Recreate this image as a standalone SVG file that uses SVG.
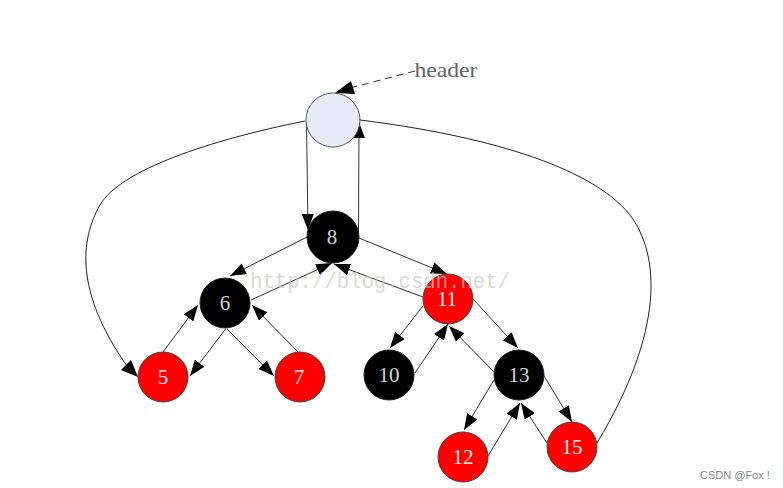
<svg xmlns="http://www.w3.org/2000/svg" width="783" height="488" viewBox="0 0 783 488">
<defs>
<style>
.e{fill:none;stroke:#333;stroke-width:1;marker-end:url(#ah)}
.c{fill:none;stroke:#222;stroke-width:1}
.red{fill:#ff0000;stroke:#444;stroke-width:1}
.blk{fill:#000;stroke:#222;stroke-width:1}
.lbl{font-family:"Liberation Serif","Times New Roman",serif;font-size:21px;text-anchor:middle}
.lb{fill:#d4d4d4}
.lr{fill:#ffe8e8}
</style>
<marker id="ah" viewBox="0 0 16 12" refX="16" refY="6" markerWidth="16" markerHeight="12" markerUnits="userSpaceOnUse" orient="auto">
<path d="M0,0 L16,6 L0,12 z" fill="#000"/>
</marker>
</defs>
<rect width="783" height="488" fill="#fff"/>
<g id="connectors">
<path class="c" d="M305,121 C210,140 120,170 100,205 S75,292 127,366"/>
<path d="M138,377 L121,370 L131,360 z" fill="#000"/>
<path class="c" d="M360,120 C480,135 590,165 630,215 C660,255 665,330 597,443"/>
<path d="M415,71 L350,88" fill="none" stroke="#333" stroke-dasharray="7,5"/>
<path d="M335,93 L351,81 L355,94 z" fill="#000"/>
<path class="e" d="M306.5,121 L308,230"/>
<path class="e" d="M358.5,234 L359,122"/>
<path class="e" d="M307,237 L230,276"/>
<path class="e" d="M251,300 L332,263"/>
<path class="e" d="M359,238 L447,274"/>
<path class="e" d="M423,297 L334,264"/>
<path class="e" d="M225.5,329 L190,376"/>
<path class="e" d="M163,352 L198,305"/>
<path class="e" d="M227,329 L274,376"/>
<path class="e" d="M298,352 L252,305"/>
<path class="e" d="M423,306 L390,348"/>
<path class="e" d="M415,373 L448,324"/>
<path class="e" d="M473,299 L518,348"/>
<path class="e" d="M494,372 L449,326"/>
<path class="e" d="M494,380 L464,430"/>
<path class="e" d="M488,456 L520,403"/>
<path class="e" d="M544,376 L572,422"/>
<path class="e" d="M547,443 L521,403"/>
</g>
<g id="header">
<circle cx="333" cy="120" r="27" fill="#e5ecf7" stroke="#555" stroke-width="1"/>
<text x="446" y="77" font-family="'Liberation Serif','Times New Roman',serif" font-size="21" fill="#666" text-anchor="middle" textLength="63" lengthAdjust="spacingAndGlyphs">header</text>
</g>
<g id="n8"><circle class="blk" cx="333" cy="237" r="26"/><text class="lbl lb" x="332" y="244">8</text></g>
<g id="n6"><circle class="blk" cx="225" cy="303" r="25"/><text class="lbl lb" x="225" y="310">6</text></g>
<g id="n5"><circle class="red" cx="163" cy="377" r="25"/><text class="lbl lr" x="163" y="384">5</text></g>
<g id="n7"><circle class="red" cx="300" cy="377" r="25"/><text class="lbl lr" x="299" y="384">7</text></g>
<g id="n11"><circle class="red" cx="448" cy="299" r="25"/><text class="lbl lr" x="447" y="306">11</text></g>
<g id="n10"><circle class="blk" cx="389" cy="375" r="25"/><text class="lbl lb" x="389" y="382">10</text></g>
<g id="n13"><circle class="blk" cx="519" cy="375" r="25"/><text class="lbl lb" x="519" y="382">13</text></g>
<g id="n12"><circle class="red" cx="463" cy="457" r="25"/><text class="lbl lr" x="463" y="464">12</text></g>
<g id="n15"><circle class="red" cx="572" cy="447" r="25"/><text class="lbl lr" x="572" y="454">15</text></g>
<text x="250" y="288" font-family="'Liberation Mono','Courier New',monospace" font-size="22" fill="#c8c8c0" fill-opacity="0.7" textLength="260" lengthAdjust="spacingAndGlyphs">http://blog.csdn.net/</text>
<text x="700" y="479" font-family="'Liberation Sans',Arial,sans-serif" font-size="11" fill="#888">CSDN @Fox !</text>
</svg>
